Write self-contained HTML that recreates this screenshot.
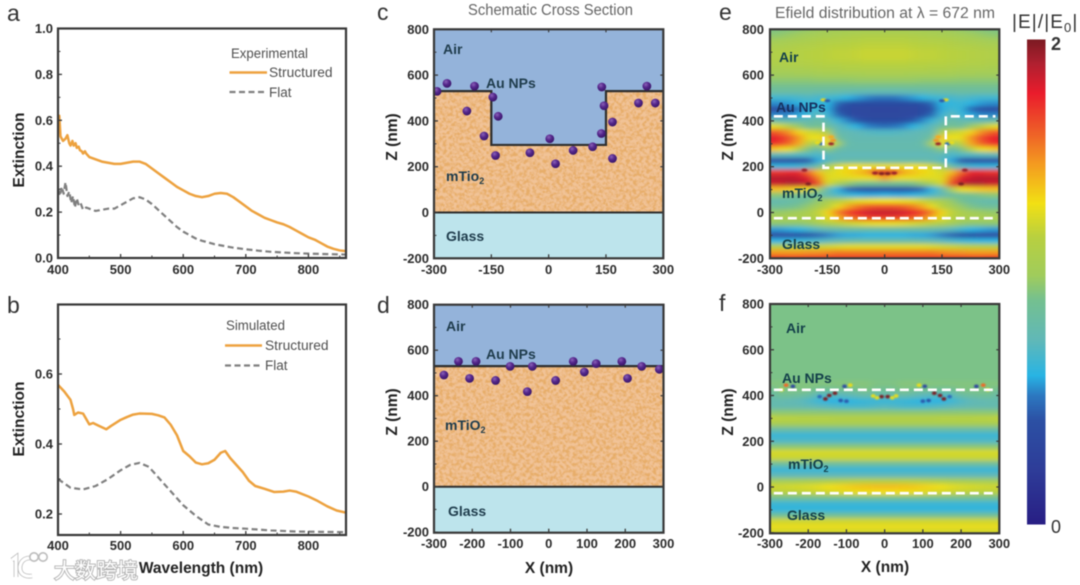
<!DOCTYPE html>
<html lang="en">
<head>
<meta charset="utf-8">
<title>Extinction spectra and E-field distribution</title>
<style>
html,body{margin:0;padding:0;background:#fff;width:1080px;height:585px;overflow:hidden}
svg{display:block;filter:blur(.55px)}
text{font-family:"Liberation Sans","Noto Sans CJK SC",sans-serif}
.tk{font-weight:700;font-size:13px;fill:#2c2c2c}
.ax{font-weight:700;font-size:15.5px;fill:#222}
.pl{font-size:23px;fill:#333}
.lg{font-size:13.5px;fill:#505050}
.ttl{font-size:15.5px;fill:#666}
.rg{font-weight:700;font-size:14px;fill:#1f3c4c}
.rh{font-weight:700;font-size:14px;fill:#14404a}
</style>
</head>
<body>
<svg id="fig" width="1080" height="585" viewBox="0 0 1080 585" xmlns="http://www.w3.org/2000/svg">
<defs>
<filter id="tio2" x="0" y="0" width="1" height="1">
<feTurbulence type="fractalNoise" baseFrequency=".3" numOctaves="3" seed="7" result="n"/>
<feColorMatrix in="n" type="matrix" values="0 0 0 0 .80  0 0 0 0 .42  0 0 0 0 .14  3.4 0 0 0 -1.3" result="c"/>
<feComposite in="c" in2="SourceGraphic" operator="in" result="t"/>
<feMerge><feMergeNode in="SourceGraphic"/><feMergeNode in="t"/></feMerge>
</filter>
<filter id="heatblur" x="-5%" y="-5%" width="110%" height="110%"><feGaussianBlur stdDeviation="4.5 2"/></filter>
<filter id="spotblur" x="-60%" y="-60%" width="220%" height="220%"><feGaussianBlur stdDeviation=".7"/></filter>
<radialGradient id="np" cx=".38" cy=".32" r=".75"><stop offset="0" stop-color="#8a62b8"/><stop offset=".45" stop-color="#55278c"/><stop offset="1" stop-color="#341463"/></radialGradient>
<clipPath id="clipA"><rect x="58" y="28.5" width="288" height="229.5"/></clipPath>
<clipPath id="clipB"><rect x="58" y="304.5" width="288" height="230.5"/></clipPath>
<clipPath id="clipE"><rect x="770" y="29.3" width="229.3" height="229"/></clipPath>
<clipPath id="clipF"><rect x="770" y="304" width="229.3" height="229.3"/></clipPath>
<clipPath id="clipC"><rect x="434" y="29.3" width="229.3" height="229"/></clipPath>
<clipPath id="clipD"><rect x="434" y="304.7" width="229.5" height="228"/></clipPath>
<linearGradient id="cbarGrad" x1="0" y1="1" x2="0" y2="0"></linearGradient>
</defs>

<rect width="1080" height="585" fill="#fff"/>
<g id="layer"></g>

<text class="pl" x="7" y="21">a</text>
<text class="pl" x="7" y="313">b</text>
<text class="pl" x="377" y="20">c</text>
<text class="pl" x="377" y="313">d</text>
<text class="pl" x="719" y="20">e</text>
<text class="pl" x="719" y="311">f</text>

<text class="ttl" x="468" y="15" textLength="165" lengthAdjust="spacingAndGlyphs">Schematic Cross Section</text>
<text class="ttl" x="775" y="18" textLength="220" lengthAdjust="spacingAndGlyphs">Efield distribution at λ = 672 nm</text>

<text class="ax" transform="translate(24,150) rotate(-90)" text-anchor="middle">Extinction</text>
<text class="ax" transform="translate(24,419) rotate(-90)" text-anchor="middle">Extinction</text>
<text class="ax" x="201" y="573" text-anchor="middle">Wavelength (nm)</text>
<text class="ax" transform="translate(397,137) rotate(-90)" text-anchor="middle">Z (nm)</text>
<text class="ax" transform="translate(397,412) rotate(-90)" text-anchor="middle">Z (nm)</text>
<text class="ax" x="549" y="573" text-anchor="middle">X (nm)</text>
<text class="ax" transform="translate(733,137) rotate(-90)" text-anchor="middle">Z (nm)</text>
<text class="ax" transform="translate(733,412) rotate(-90)" text-anchor="middle">Z (nm)</text>
<text class="ax" x="885" y="572" text-anchor="middle">X (nm)</text>

<g>
<text class="lg" x="231" y="58" textLength="77" lengthAdjust="spacingAndGlyphs">Experimental</text>
<line x1="229.5" y1="72.5" x2="267" y2="72.5" stroke="#eda23f" stroke-width="2.5"/>
<text class="lg" x="269" y="77" textLength="63.5" lengthAdjust="spacingAndGlyphs">Structured</text>
<line x1="229.5" y1="92" x2="267" y2="92" stroke="#808080" stroke-width="2.2" stroke-dasharray="6 3.5"/>
<text class="lg" x="269" y="97">Flat</text>
</g>
<g>
<text class="lg" x="226" y="330" textLength="59" lengthAdjust="spacingAndGlyphs">Simulated</text>
<line x1="225" y1="345.5" x2="262" y2="345.5" stroke="#eda23f" stroke-width="2.5"/>
<text class="lg" x="265" y="350" textLength="63.5" lengthAdjust="spacingAndGlyphs">Structured</text>
<line x1="225" y1="365.5" x2="262" y2="365.5" stroke="#808080" stroke-width="2.2" stroke-dasharray="6 3.5"/>
<text class="lg" x="265" y="370">Flat</text>
</g>

<rect id="cbar" x="1027" y="39.5" width="18.5" height="485" fill="url(#cbarGrad)"/>
<text x="1012" y="28" font-size="19" fill="#333" letter-spacing="1.1">|E|/|E<tspan dy="4" font-size="13">0</tspan><tspan dy="-4">|</tspan></text>
<text x="1051" y="50" font-size="18" font-weight="700" fill="#333">2</text>
<text x="1051" y="533" font-size="18" fill="#333">0</text>

<g>
<path d="M12 560 L16 557 L16 577 M30 558 C22 558 20 564 20 568 C20 574 25 577 32 576" fill="none" stroke="#b4b4b4" stroke-width="4.6"/>
<path d="M12 560 L16 557 L16 577 M30 558 C22 558 20 564 20 568 C20 574 25 577 32 576" fill="none" stroke="#fff" stroke-width="3.2"/>
<circle cx="34" cy="557" r="4.2" fill="none" stroke="#bcbcbc" stroke-width="1.6"/>
<circle cx="43" cy="557" r="4.2" fill="none" stroke="#bcbcbc" stroke-width="1.6"/>
<text x="54" y="578" font-size="21" fill="#fff" stroke="#b0b0b0" stroke-width="1.8" paint-order="stroke" style='font-family:"Liberation Sans","Noto Sans CJK SC",sans-serif'>大数跨境</text>
</g>
</svg>

<script>
/* ---------- panel a: experimental spectra ---------- */
const aStructuredWl = [400,402,404,408,412,415,418,420,423,425,428,430,433,435,438,440,443,445,450,460,470,480,490,500,510,520,530,540,550,560,570,580,590,600,610,620,630,640,650,660,670,680,690,700,710,720,730,740,750,760,770,780,790,800,810,820,830,840,850,860];
const aStructuredExt = [0.56,0.62,0.53,0.51,0.52,0.535,0.50,0.49,0.51,0.49,0.50,0.48,0.485,0.47,0.465,0.455,0.465,0.455,0.44,0.43,0.42,0.415,0.41,0.41,0.415,0.42,0.42,0.41,0.39,0.37,0.35,0.33,0.31,0.295,0.28,0.27,0.265,0.27,0.28,0.283,0.28,0.265,0.245,0.225,0.205,0.19,0.175,0.165,0.155,0.147,0.135,0.12,0.105,0.09,0.08,0.065,0.05,0.04,0.033,0.03];
const aFlatWl = [400,403,406,409,412,415,418,421,424,427,430,433,436,440,445,450,460,470,480,490,500,510,520,530,540,550,560,570,580,590,600,610,620,630,640,650,660,670,680,700,720,740,760,780,800,830,860];
const aFlatExt = [0.30,0.27,0.31,0.28,0.33,0.27,0.29,0.24,0.27,0.22,0.26,0.23,0.24,0.21,0.22,0.215,0.205,0.21,0.215,0.215,0.23,0.245,0.26,0.265,0.255,0.235,0.21,0.185,0.16,0.135,0.115,0.10,0.085,0.075,0.068,0.06,0.055,0.05,0.045,0.038,0.032,0.027,0.024,0.021,0.019,0.017,0.015];
const aYTicks = [0,0.2,0.4,0.6,0.8,1.0];
const aYLabels = ['0.0','0.2','0.4','0.6','0.8','1.0'];
const aYMinor = [0.1,0.3,0.5,0.7,0.9];
const wlTicks = [400,500,600,700,800];
const wlLabels = ['400','500','600','700','800'];
const wlMinor = [450,550,650,750,850];

/* ---------- panel b: simulated spectra ---------- */
const bStructuredWl = [400,410,420,424,426,432,440,450,456,465,477,485,500,510,520,530,550,560,570,580,590,600,610,620,630,640,650,660,667,675,685,695,705,715,730,745,760,770,780,800,815,830,845,860];
const bStructuredExt = [0.569,0.55,0.526,0.50,0.483,0.49,0.487,0.456,0.46,0.452,0.442,0.452,0.469,0.477,0.484,0.487,0.486,0.482,0.476,0.455,0.425,0.38,0.365,0.347,0.342,0.345,0.355,0.375,0.38,0.36,0.34,0.32,0.295,0.28,0.272,0.263,0.264,0.267,0.264,0.25,0.237,0.222,0.21,0.204];
const bFlatWl = [400,420,440,460,480,500,515,530,545,560,580,600,620,640,660,680,700,740,780,820,860];
const bFlatExt = [0.30,0.275,0.27,0.28,0.30,0.325,0.34,0.346,0.335,0.305,0.265,0.225,0.195,0.17,0.163,0.16,0.158,0.153,0.15,0.149,0.148];
const bYTicks = [0.2,0.4,0.6];
const bYLabels = ['0.2','0.4','0.6'];
const bYMinor = [0.3,0.5,0.7];

/* ---------- panels c, d: schematic ---------- */
const zTicks = [-200,0,200,400,600,800];
const zLabels = ['-200','0','200','400','600','800'];
const zMinor = [-100,100,300,500,700];
const xTicksC = [-300,-150,0,150,300];
const xLabelsC = ['-300','-150','0','150','300'];
const xTicksD = [-300,-200,-100,0,100,200,300];
const xLabelsD = ['-300','-200','-100','0','100','200','300'];
const cProfileX = [-300,-150,-150,150,150,300];
const cProfileZ = [530,530,295,295,530,530];
const dProfileX = [-300,300];
const dProfileZ = [530,530];
const cParticleX = [-292,-266,-194,-146,-214,-132,-169,-139,-49,3,18,64,115,139,145,167,138,167,235,257,279];
const cParticleZ = [529,564,552,504,443,420,334,249,261,322,213,271,287,548,466,395,345,236,478,552,478];
const dParticleX = [-274,-236,-190,-207,-139,-101,-56,-43,18,64,93,124,191,206,243,289];
const dParticleZ = [491,551,551,476,467,529,418,529,467,551,504,541,551,476,529,516];

/* ---------- colour scale: fraction of |E|/|E0| range, colour ---------- */
const scaleStops = [0,0.111,0.214,0.266,0.307,0.379,0.462,0.513,0.592,0.662,0.744,0.812,0.889,0.95,1];
const scaleColors = ['#281e84','#2e3c98','#2c50a4','#2c78c0','#28b4e4','#60b8b8','#74c090','#a0cc5c','#b8d040','#f2e014','#f49a20','#ee5c28','#ea1c2c','#b02030','#7c1a22'];

/* ---------- panels e, f: |E|/|E0| on a 25 nm grid ---------- */
const heatZ = [800,775,750,725,700,675,650,625,600,575,550,525,500,475,450,425,400,375,350,325,300,275,250,225,200,175,150,125,100,75,50,25,0,-25,-50,-75,-100,-125,-150,-175,-200];
const heatHalfX = [0,25,50,75,100,125,150,175,200,225,250,275,300];
const eField = [
[1.06,1.06,1.06,1.05,1.05,1.04,1.04,1.02,1.00,0.98,0.96,0.95,0.94],
[1.12,1.12,1.12,1.11,1.10,1.09,1.08,1.07,1.05,1.03,1.01,0.99,0.98],
[1.17,1.17,1.17,1.16,1.15,1.14,1.13,1.12,1.10,1.08,1.07,1.05,1.04],
[1.20,1.20,1.20,1.19,1.18,1.18,1.17,1.16,1.14,1.13,1.11,1.10,1.09],
[1.22,1.22,1.22,1.21,1.20,1.20,1.19,1.18,1.17,1.16,1.15,1.14,1.13],
[1.22,1.22,1.22,1.21,1.20,1.20,1.19,1.18,1.17,1.16,1.15,1.14,1.13],
[1.19,1.19,1.19,1.18,1.18,1.17,1.17,1.16,1.15,1.14,1.13,1.12,1.12],
[1.14,1.14,1.14,1.13,1.13,1.12,1.12,1.11,1.10,1.09,1.09,1.08,1.08],
[1.07,1.07,1.07,1.06,1.06,1.06,1.06,1.05,1.04,1.04,1.03,1.03,1.03],
[1.00,1.00,1.00,1.00,0.99,0.99,0.99,0.99,0.98,0.98,0.98,0.98,0.98],
[0.92,0.92,0.92,0.92,0.92,0.92,0.92,0.92,0.92,0.92,0.92,0.92,0.92],
[0.78,0.78,0.78,0.79,0.80,0.81,0.82,0.83,0.84,0.84,0.84,0.84,0.84],
[0.52,0.52,0.55,0.58,0.62,0.66,0.68,0.70,0.72,0.70,0.68,0.68,0.68],
[0.38,0.38,0.39,0.40,0.42,0.50,0.62,0.64,0.66,0.62,0.58,0.56,0.56],
[0.34,0.34,0.35,0.36,0.38,0.42,0.60,0.68,0.64,0.50,0.42,0.38,0.36],
[0.35,0.35,0.36,0.37,0.40,0.50,0.66,0.76,0.66,0.60,0.55,0.55,0.55],
[0.38,0.38,0.40,0.45,0.55,0.66,0.75,0.85,0.80,0.78,0.78,0.80,0.85],
[0.50,0.52,0.55,0.62,0.70,0.76,0.88,0.92,0.88,1.00,1.15,1.25,1.30],
[0.72,0.72,0.74,0.76,0.78,0.80,1.10,1.22,1.25,1.35,1.50,1.60,1.65],
[0.78,0.78,0.78,0.78,0.80,0.90,1.38,1.32,1.30,1.50,1.65,1.75,1.80],
[0.80,0.80,0.80,0.80,0.82,1.10,1.32,1.05,1.20,1.45,1.60,1.70,1.75],
[0.80,0.80,0.80,0.80,0.80,0.85,0.98,0.82,0.95,1.15,1.30,1.35,1.40],
[0.76,0.76,0.76,0.76,0.76,0.76,0.76,0.70,0.72,0.72,0.74,0.75,0.76],
[0.82,0.82,0.82,0.82,0.82,0.80,0.74,0.60,0.45,0.42,0.42,0.42,0.42],
[1.30,1.30,1.30,1.32,1.30,1.25,1.05,0.85,0.72,0.66,0.64,0.64,0.64],
[1.80,1.70,1.45,1.40,1.35,1.30,1.25,1.40,1.60,1.75,1.75,1.72,1.72],
[1.50,1.35,1.30,1.30,1.28,1.28,1.28,1.55,1.80,1.85,1.88,1.88,1.88],
[0.92,0.92,0.92,0.94,1.00,1.10,1.25,1.70,1.85,1.90,1.90,1.85,1.85],
[0.42,0.42,0.42,0.44,0.50,0.62,0.80,1.05,1.30,1.35,1.38,1.40,1.40],
[0.62,0.60,0.60,0.62,0.66,0.72,0.78,0.85,0.90,0.92,0.95,0.98,0.98],
[1.32,1.32,1.30,1.28,1.22,1.15,1.08,1.00,0.92,0.85,0.82,0.80,0.80],
[1.65,1.65,1.62,1.55,1.45,1.30,1.18,1.08,1.00,0.94,0.90,0.88,0.88],
[1.85,1.85,1.82,1.78,1.70,1.55,1.35,1.20,1.10,1.05,1.02,1.00,1.00],
[1.70,1.70,1.68,1.62,1.55,1.42,1.28,1.18,1.12,1.10,1.10,1.10,1.10],
[1.30,1.30,1.28,1.25,1.22,1.18,1.12,1.05,1.00,0.98,0.98,0.98,0.98],
[0.85,0.85,0.85,0.85,0.85,0.82,0.80,0.74,0.68,0.62,0.60,0.58,0.58],
[0.62,0.62,0.62,0.60,0.60,0.58,0.54,0.48,0.42,0.38,0.36,0.36,0.36],
[0.82,0.82,0.82,0.82,0.80,0.78,0.74,0.70,0.66,0.64,0.62,0.62,0.62],
[1.28,1.28,1.28,1.28,1.28,1.26,1.24,1.22,1.20,1.18,1.18,1.16,1.16],
[1.55,1.55,1.55,1.55,1.55,1.55,1.52,1.50,1.50,1.48,1.48,1.48,1.48],
[1.72,1.72,1.72,1.72,1.72,1.72,1.72,1.72,1.72,1.72,1.72,1.74,1.74]
];
const fField = [
[0.94,0.94,0.94,0.94,0.94,0.94,0.94,0.94,0.94,0.94,0.94,0.94,0.94],
[0.94,0.94,0.94,0.94,0.94,0.94,0.94,0.94,0.94,0.94,0.94,0.94,0.94],
[0.94,0.94,0.94,0.94,0.94,0.94,0.94,0.94,0.94,0.94,0.94,0.94,0.94],
[0.94,0.94,0.94,0.94,0.94,0.94,0.94,0.94,0.94,0.94,0.94,0.94,0.94],
[0.94,0.94,0.94,0.94,0.94,0.94,0.94,0.94,0.94,0.94,0.94,0.94,0.94],
[0.94,0.94,0.94,0.94,0.94,0.94,0.94,0.94,0.94,0.94,0.94,0.94,0.94],
[0.94,0.94,0.94,0.94,0.94,0.94,0.94,0.94,0.94,0.94,0.94,0.94,0.94],
[0.94,0.94,0.94,0.94,0.94,0.94,0.94,0.94,0.94,0.94,0.94,0.94,0.94],
[0.94,0.94,0.94,0.94,0.94,0.94,0.94,0.94,0.94,0.94,0.94,0.94,0.94],
[0.94,0.94,0.94,0.94,0.94,0.94,0.94,0.94,0.94,0.94,0.94,0.94,0.94],
[0.94,0.94,0.94,0.94,0.94,0.94,0.94,0.94,0.94,0.94,0.94,0.94,0.94],
[0.94,0.94,0.94,0.94,0.94,0.94,0.94,0.94,0.94,0.94,0.94,0.94,0.94],
[0.94,0.94,0.94,0.94,0.94,0.94,0.94,0.94,0.94,0.94,0.94,0.94,0.94],
[0.94,0.94,0.94,0.94,0.94,0.94,0.94,0.94,0.94,0.94,0.94,0.94,0.94],
[0.95,0.95,0.97,0.97,0.97,0.96,0.96,0.96,0.96,0.96,0.96,0.96,0.96],
[0.90,0.92,0.95,0.92,0.92,0.92,0.90,0.90,0.95,0.95,0.95,0.95,0.90],
[0.80,0.80,0.84,0.80,0.76,0.74,0.72,0.75,0.85,0.88,0.90,0.90,0.82],
[0.66,0.66,0.66,0.64,0.62,0.62,0.62,0.66,0.72,0.76,0.78,0.80,0.80],
[0.74,0.72,0.70,0.70,0.70,0.72,0.74,0.76,0.78,0.80,0.80,0.80,0.80],
[0.98,0.98,0.98,0.98,0.98,0.98,0.98,0.98,0.98,0.98,0.98,0.98,0.98],
[1.16,1.16,1.16,1.16,1.16,1.16,1.17,1.17,1.18,1.18,1.19,1.19,1.20],
[1.08,1.08,1.08,1.08,1.08,1.08,1.08,1.08,1.08,1.08,1.08,1.08,1.08],
[0.84,0.84,0.84,0.84,0.84,0.84,0.84,0.84,0.84,0.84,0.84,0.84,0.84],
[0.66,0.66,0.66,0.66,0.66,0.66,0.66,0.66,0.66,0.66,0.66,0.66,0.66],
[0.72,0.72,0.72,0.72,0.72,0.72,0.72,0.72,0.72,0.72,0.72,0.72,0.72],
[0.98,0.98,0.98,0.98,0.98,0.98,0.98,0.98,0.98,0.98,0.98,0.98,0.98],
[1.26,1.26,1.26,1.26,1.26,1.26,1.26,1.26,1.26,1.26,1.26,1.26,1.26],
[1.22,1.22,1.22,1.22,1.22,1.22,1.22,1.22,1.22,1.22,1.22,1.22,1.22],
[0.88,0.88,0.88,0.88,0.88,0.88,0.88,0.88,0.88,0.88,0.88,0.88,0.88],
[0.66,0.66,0.66,0.66,0.66,0.66,0.66,0.66,0.66,0.66,0.66,0.66,0.66],
[0.76,0.76,0.76,0.76,0.76,0.76,0.76,0.76,0.76,0.76,0.76,0.76,0.76],
[1.16,1.16,1.16,1.15,1.14,1.12,1.10,1.08,1.07,1.06,1.05,1.05,1.05],
[1.40,1.40,1.39,1.38,1.36,1.34,1.32,1.29,1.27,1.26,1.25,1.24,1.24],
[1.32,1.32,1.31,1.30,1.28,1.26,1.24,1.22,1.20,1.19,1.18,1.17,1.16],
[0.90,0.90,0.90,0.90,0.90,0.90,0.90,0.90,0.90,0.90,0.90,0.90,0.90],
[0.66,0.66,0.66,0.66,0.66,0.66,0.66,0.66,0.66,0.66,0.66,0.66,0.66],
[0.64,0.64,0.64,0.64,0.64,0.64,0.64,0.64,0.64,0.64,0.64,0.64,0.64],
[0.90,0.90,0.90,0.90,0.90,0.90,0.90,0.90,0.90,0.90,0.90,0.90,0.90],
[1.24,1.24,1.24,1.24,1.24,1.24,1.24,1.24,1.24,1.24,1.24,1.24,1.24],
[1.30,1.30,1.30,1.30,1.30,1.30,1.30,1.30,1.30,1.30,1.30,1.30,1.30],
[1.24,1.24,1.24,1.24,1.24,1.24,1.24,1.24,1.24,1.24,1.24,1.24,1.24]
];
/* local hot / cold spots around the particles (mirrored in x) */
const eSpotX = [140,8,25,200,210,160,150,165,175,140,135];
const eSpotZ = [300,170,172,125,185,492,488,300,305,330,315];
const eSpotV = [1.95,2.0,1.95,2.0,1.95,1.34,0.45,0.5,1.3,1.45,1.5];
const fSpotX = [130,145,155,8,240,258,105,90,170,20,100,115,30,270];
const fSpotZ = [410,400,385,395,440,445,440,445,395,390,375,378,398,425];
const fSpotV = [2.0,2.0,2.0,2.0,0.3,1.6,0.35,1.3,0.5,1.3,0.46,0.44,1.3,1.3];
const eDashX = [-290,-160,-160,160,160,290];
const eDashZ = [420,420,195,195,420,420];
const eGlassDashX = [-290,290];
const eGlassDashZ = [-25,-25];
const fTopDashX = [-290,290];
const fTopDashZ = [425,425];
const fGlassDashX = [-290,290];
const fGlassDashZ = [-27,-27];

/* ---------- drawing ---------- */
const NS = 'http://www.w3.org/2000/svg';
const layer = document.getElementById('layer');
function mk(tag, attrs, parent){
  const el = document.createElementNS(NS, tag);
  for (const k in attrs) el.setAttribute(k, attrs[k]);
  (parent || layer).appendChild(el);
  return el;
}
function linScale(d0, d1, r0, r1){ return v => r0 + (v - d0) * (r1 - r0) / (d1 - d0); }
function hex(c){ return [parseInt(c.slice(1,3),16), parseInt(c.slice(3,5),16), parseInt(c.slice(5,7),16)]; }
function fieldColor(v){
  const t = Math.max(0, Math.min(1, v / 2));
  let i = 0;
  while (i < scaleStops.length - 2 && t > scaleStops[i + 1]) i++;
  const f = (t - scaleStops[i]) / (scaleStops[i + 1] - scaleStops[i]);
  const a = hex(scaleColors[i]), b = hex(scaleColors[i + 1]);
  return 'rgb(' + a.map((p, j) => Math.round(p + (b[j] - p) * f)).join(',') + ')';
}
function pathFrom(xs, ys, sx, sy){
  return xs.map((x, i) => (i ? 'L' : 'M') + sx(x).toFixed(2) + ' ' + sy(ys[i]).toFixed(2)).join(' ');
}

/* colorbar */
const cbarGrad = document.getElementById('cbarGrad');
scaleStops.forEach((s, i) => {
  const st = document.createElementNS(NS, 'stop');
  st.setAttribute('offset', s);
  st.setAttribute('stop-color', scaleColors[i]);
  cbarGrad.appendChild(st);
});

function drawFrameAndTicks(p){
  const g = mk('g', {});
  
  
  const frame = mk('rect', {x:p.l, y:p.t, width:p.r - p.l, height:p.b - p.t, fill:'none', stroke:'#383838', 'stroke-width':2.2}, g);
  
  
  p.xTicks.forEach((v, i) => {
    const x = p.sx(v);
    const t1 = mk('line', {x1:x, x2:x, y1:p.b, y2:p.b - 4, stroke:'#3a3a3a', 'stroke-width':1.3}, g);
    
    
    if (p.mirror) {
      const t2 = mk('line', {x1:x, x2:x, y1:p.t, y2:p.t + 3, stroke:'#3a3a3a', 'stroke-width':1.2}, g);
      
      
    }
    const lab = mk('text', {x:x, y:p.xBase, 'text-anchor':'middle', class:'tk'}, g);
    
    
    lab.textContent = p.xLabels[i];
  });
  (p.xMinor || []).forEach(v => {
    if (p.sx(v) >= p.r) return;
    const m = mk('line', {x1:p.sx(v), x2:p.sx(v), y1:p.b, y2:p.b - 2.5, stroke:'#3a3a3a', 'stroke-width':1}, g);
    
    
  });
  p.yTicks.forEach((v, i) => {
    const y = p.sy(v);
    const t1 = mk('line', {x1:p.l, x2:p.l + 4, y1:y, y2:y, stroke:'#3a3a3a', 'stroke-width':1.3}, g);
    
    
    if (p.mirror) {
      const t2 = mk('line', {x1:p.r, x2:p.r - 3, y1:y, y2:y, stroke:'#3a3a3a', 'stroke-width':1.2}, g);
      
      
    }
    const lab = mk('text', {x:p.yEnd, y:y + 4.5, 'text-anchor':'end', class:'tk'}, g);
    
    
    lab.textContent = p.yLabels[i];
  });
  (p.yMinor || []).forEach(v => {
    if (p.sy(v) <= p.t) return;
    const m = mk('line', {x1:p.l, x2:p.l + 2.5, y1:p.sy(v), y2:p.sy(v), stroke:'#3a3a3a', 'stroke-width':1}, g);
    
    
  });
}

function drawSpectrum(name, clip, sx, sy, wl, ext, stroke, width, dash){
  const el = mk('path', {d:pathFrom(wl, ext, sx, sy), fill:'none', stroke:stroke, 'stroke-width':width, 'stroke-linejoin':'round', 'clip-path':'url(#' + clip + ')'});
  if (dash) el.setAttribute('stroke-dasharray', dash);
  
  
}

/* panel a */
const axA = linScale(400, 860, 58, 346), ayA = linScale(0, 1, 258, 28.5);
drawSpectrum('series-a-flat', 'clipA', axA, ayA, aFlatWl, aFlatExt, '#808080', 2.2, '6 3.5');
drawSpectrum('series-a-structured', 'clipA', axA, ayA, aStructuredWl, aStructuredExt, '#eda23f', 2.5);
drawFrameAndTicks({name:'panel-a', l:58, r:346, t:28.5, b:258, sx:axA, sy:ayA, xTicks:wlTicks, xLabels:wlLabels, xMinor:wlMinor, yTicks:aYTicks, yLabels:aYLabels, yMinor:aYMinor, xBase:274, yEnd:53, mirror:false});

/* panel b */
const axB = linScale(400, 860, 58, 346), ayB = linScale(0.2, 0.6, 514, 374);
drawSpectrum('series-b-flat', 'clipB', axB, ayB, bFlatWl, bFlatExt, '#808080', 2.2, '6 3.5');
drawSpectrum('series-b-structured', 'clipB', axB, ayB, bStructuredWl, bStructuredExt, '#eda23f', 2.5);
drawFrameAndTicks({name:'panel-b', l:58, r:346, t:304.5, b:535, sx:axB, sy:ayB, xTicks:wlTicks, xLabels:wlLabels, xMinor:wlMinor, yTicks:bYTicks, yLabels:bYLabels, yMinor:bYMinor, xBase:550, yEnd:53, mirror:false});

function drawSchematic(p){
  const c = 'url(#' + p.clip + ')';
  const air = mk('rect', {x:p.l, y:p.t, width:p.r - p.l, height:p.b - p.t, fill:'#94b3da', 'clip-path':c});
  
  
  const topPath = pathFrom(p.profX, p.profZ, p.sx, p.sy);
  const body = mk('path', {d:topPath + ' L' + p.sx(300) + ' ' + p.sy(0) + ' L' + p.sx(-300) + ' ' + p.sy(0) + ' Z', fill:'#f1c397', filter:'url(#tio2)', 'clip-path':c});
  
  
  const glass = mk('rect', {x:p.l, y:p.sy(0), width:p.r - p.l, height:p.b - p.sy(0), fill:'#bde4ec', 'clip-path':c});
  
  
  const top = mk('path', {d:topPath, fill:'none', stroke:'#2e2e2e', 'stroke-width':2.2, 'clip-path':c});
  
  
  const base = mk('line', {x1:p.l, x2:p.r, y1:p.sy(0), y2:p.sy(0), stroke:'#2e2e2e', 'stroke-width':2});
  
  
  p.npX.forEach((x, i) => {
    const n = mk('circle', {cx:p.sx(x), cy:p.sy(p.npZ[i]), r:4.4, fill:'url(#np)', 'clip-path':c});
    
    
  });
}

/* panel c */
const sxC = linScale(-300, 300, 434, 663.3), szC = linScale(0, 800, 212.5, 29.3);
drawSchematic({name:'panel-c', clip:'clipC', l:434, r:663.3, t:29.3, b:258.3, sx:sxC, sy:szC, profX:cProfileX, profZ:cProfileZ, npX:cParticleX, npZ:cParticleZ});
drawFrameAndTicks({name:'panel-c', l:434, r:663.3, t:29.3, b:258.3, sx:sxC, sy:szC, xTicks:xTicksC, xLabels:xLabelsC, yTicks:zTicks, yLabels:zLabels, yMinor:zMinor, xBase:274, yEnd:429, mirror:true});

/* panel d */
const sxD = linScale(-300, 300, 434, 663.5), szD = linScale(0, 800, 486.7, 304.7);
drawSchematic({name:'panel-d', clip:'clipD', l:434, r:663.5, t:304.7, b:532.7, sx:sxD, sy:szD, profX:dProfileX, profZ:dProfileZ, npX:dParticleX, npZ:dParticleZ});
drawFrameAndTicks({name:'panel-d', l:434, r:663.5, t:304.7, b:532.7, sx:sxD, sy:szD, xTicks:xTicksD, xLabels:xLabelsD, yTicks:zTicks, yLabels:zLabels, yMinor:zMinor, xBase:548, yEnd:429, mirror:true});

function drawHeat(p){
  const outer = mk('g', {'clip-path':'url(#' + p.clip + ')'});
  
  
  const bl = mk('g', {filter:'url(#heatblur)'}, outer);
  
  
  const w = Math.abs(p.sx(25) - p.sx(0)), h = Math.abs(p.sy(25) - p.sy(0));
  heatZ.forEach((z, r) => {
    heatHalfX.forEach((hx, c) => {
      [1, -1].forEach(sign => {
        if (hx === 0 && sign < 0) return;
        const edgeX = hx === 300 ? 18 : 0;
        const edgeY = (r === 0 || r === heatZ.length - 1) ? 12 : 0;
        const px = p.sx(sign * hx);
        let left = px - w / 2 - .3, width = w + .6;
        if (sign > 0) width += edgeX; else { left -= edgeX; width += edgeX; }
        const py = p.sy(z);
        let top = py - h / 2 - .3, height = h + .6;
        if (r === 0) { top -= edgeY; height += edgeY; }
        if (r === heatZ.length - 1) height += edgeY;
        const cell = mk('rect', {x:left, y:top, width:width, height:height, fill:fieldColor(p.data[r][c])}, bl);
        
        
      });
    });
  });
  p.spotX.forEach((x, i) => {
    [1, -1].forEach(sign => {
      const s = mk('ellipse', {cx:p.sx(sign * x), cy:p.sy(p.spotZ[i]), rx:p.srx, ry:p.sry, fill:fieldColor(p.spotV[i]), filter:'url(#spotblur)'}, outer);
      
      
    });
  });
  p.dashes.forEach(d => {
    const l = mk('path', {d:pathFrom(d[0], d[1], p.sx, p.sy), fill:'none', stroke:'#fff', 'stroke-width':2.6, 'stroke-dasharray':'9 5'}, outer);
    
    
  });
}

/* panel e */
const sxE = linScale(-300, 300, 770, 999.3), szE = linScale(0, 800, 212.5, 29.3);
drawHeat({name:'panel-e', clip:'clipE', sx:sxE, sy:szE, data:eField, spotX:eSpotX, spotZ:eSpotZ, spotV:eSpotV, srx:3, sry:1.5, dashes:[[eDashX, eDashZ],[eGlassDashX, eGlassDashZ]]});
drawFrameAndTicks({name:'panel-e', l:770, r:999.3, t:29.3, b:258.3, sx:sxE, sy:szE, xTicks:xTicksC, xLabels:xLabelsC, yTicks:zTicks, yLabels:zLabels, yMinor:zMinor, xBase:274, yEnd:764, mirror:true});

/* panel f */
const sxF = linScale(-300, 300, 770, 999.3), szF = linScale(0, 800, 487, 304);
drawHeat({name:'panel-f', clip:'clipF', sx:sxF, sy:szF, data:fField, spotX:fSpotX, spotZ:fSpotZ, spotV:fSpotV, srx:2.4, sry:1.8, dashes:[[fTopDashX, fTopDashZ],[fGlassDashX, fGlassDashZ]]});
drawFrameAndTicks({name:'panel-f', l:770, r:999.3, t:304, b:533.3, sx:sxF, sy:szF, xTicks:xTicksD, xLabels:xLabelsD, yTicks:zTicks, yLabels:zLabels, yMinor:zMinor, xBase:548, yEnd:764, mirror:true});

/* region labels */
function regionLabel(name, cls, x, y, txt, sub, fill){
  const t = mk('text', {x:x, y:y, class:cls});
  if (fill) t.setAttribute('style', 'fill:' + fill);
  
  
  t.appendChild(document.createTextNode(txt));
  if (sub) {
    const s = mk('tspan', {dy:3, 'font-size':9}, t);
    s.textContent = sub;
  }
}
regionLabel('panel-c-label-air', 'rg', 443, 54, 'Air');
regionLabel('panel-c-label-au-nps', 'rg', 486, 88, 'Au NPs');
regionLabel('panel-c-label-tio2', 'rg', 446, 181, 'mTio', '2');
regionLabel('panel-c-label-glass', 'rg', 446, 241, 'Glass');
regionLabel('panel-d-label-air', 'rg', 446, 331, 'Air');
regionLabel('panel-d-label-au-nps', 'rg', 486, 359, 'Au NPs');
regionLabel('panel-d-label-tio2', 'rg', 445, 430, 'mTiO', '2');
regionLabel('panel-d-label-glass', 'rg', 448, 516, 'Glass');
regionLabel('panel-e-label-air', 'rh', 779, 62, 'Air');
regionLabel('panel-e-label-au-nps', 'rh', 776, 112, 'Au NPs', null, '#16305f');
regionLabel('panel-e-label-tio2', 'rh', 782, 198, 'mTiO', '2');
regionLabel('panel-e-label-glass', 'rh', 782, 249, 'Glass');
regionLabel('panel-f-label-air', 'rh', 786, 333, 'Air');
regionLabel('panel-f-label-au-nps', 'rh', 782, 383, 'Au NPs');
regionLabel('panel-f-label-tio2', 'rh', 788, 469, 'mTiO', '2');
regionLabel('panel-f-label-glass', 'rh', 787, 520, 'Glass');
</script>
</body>
</html>
